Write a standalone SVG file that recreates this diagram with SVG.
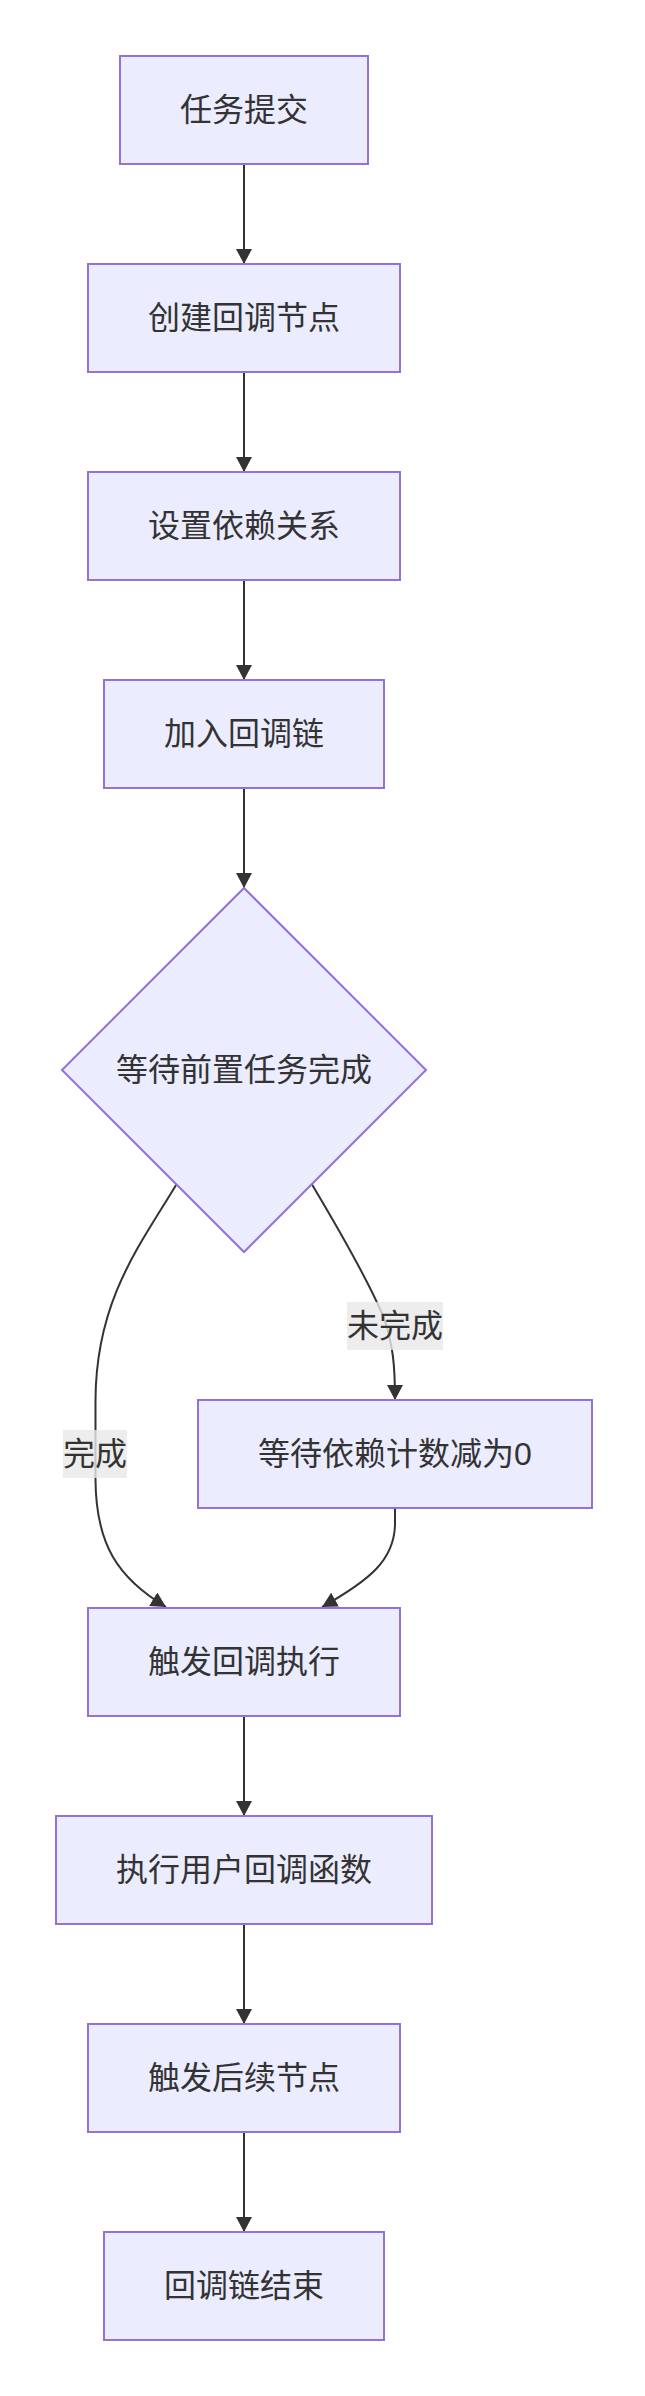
<svg xmlns="http://www.w3.org/2000/svg" width="645" height="2396" viewBox="0 0 645 2396">
<style>
.node rect,.node polygon{fill:#ECECFF;stroke:#9370DB;stroke-width:2}
.lbl{font-family:"Liberation Sans","Noto Sans CJK SC",sans-serif;font-size:32px;fill:#333;text-anchor:middle;dominant-baseline:central}
.edge{fill:none;stroke:#333;stroke-width:2}
.ebg{fill:#e8e8e8;opacity:0.8}
</style>
<defs>
<marker id="arr" viewBox="0 0 10 10" refX="10" refY="5" markerUnits="userSpaceOnUse" markerWidth="15" markerHeight="16" preserveAspectRatio="none" orient="auto">
<path d="M0,0 L10,5 L0,10 z" fill="#333"/>
</marker>
</defs>
<rect width="645" height="2396" fill="#ffffff"/>
<g id="edges">
<path class="edge" d="M244,164 L244,264" marker-end="url(#arr)"/>
<path class="edge" d="M244,372 L244,472" marker-end="url(#arr)"/>
<path class="edge" d="M244,580 L244,680" marker-end="url(#arr)"/>
<path class="edge" d="M244,788 L244,888" marker-end="url(#arr)"/>
<path class="edge" d="M176.7,1184 C140,1245 96,1300 95.5,1400 L95.5,1480 C96,1545 118,1578 166,1607" marker-end="url(#arr)"/>
<path class="edge" d="M311.7,1184 C338,1228 368,1280 384,1318 C393,1345 395,1365 395,1400" marker-end="url(#arr)"/>
<path class="edge" d="M395,1508 L395,1525 C394,1560 370,1580 322,1607" marker-end="url(#arr)"/>
<path class="edge" d="M244,1716 L244,1816" marker-end="url(#arr)"/>
<path class="edge" d="M244,1924 L244,2024" marker-end="url(#arr)"/>
<path class="edge" d="M244,2132 L244,2232" marker-end="url(#arr)"/>
<g id="label-done">
<rect class="ebg" x="63" y="1430" width="64" height="48"/>
<text class="lbl" x="95" y="1454">完成</text>
</g>
<g id="label-notdone">
<rect class="ebg" x="347" y="1302" width="96" height="48"/>
<text class="lbl" x="395" y="1326">未完成</text>
</g>
</g>
<g id="n1" class="node"><rect x="120" y="56" width="248" height="108"/><text class="lbl" x="244" y="110">任务提交</text></g>
<g id="n2" class="node"><rect x="88" y="264" width="312" height="108"/><text class="lbl" x="244" y="318">创建回调节点</text></g>
<g id="n3" class="node"><rect x="88" y="472" width="312" height="108"/><text class="lbl" x="244" y="526">设置依赖关系</text></g>
<g id="n4" class="node"><rect x="104" y="680" width="280" height="108"/><text class="lbl" x="244" y="734">加入回调链</text></g>
<g id="n5" class="node"><polygon points="244,888 426,1070 244,1252 62,1070"/><text class="lbl" x="244" y="1070">等待前置任务完成</text></g>
<g id="n6" class="node"><rect x="198" y="1400" width="394" height="108"/><text class="lbl" x="395" y="1454">等待依赖计数减为0</text></g>
<g id="n7" class="node"><rect x="88" y="1608" width="312" height="108"/><text class="lbl" x="244" y="1662">触发回调执行</text></g>
<g id="n8" class="node"><rect x="56" y="1816" width="376" height="108"/><text class="lbl" x="244" y="1870">执行用户回调函数</text></g>
<g id="n9" class="node"><rect x="88" y="2024" width="312" height="108"/><text class="lbl" x="244" y="2078">触发后续节点</text></g>
<g id="n10" class="node"><rect x="104" y="2232" width="280" height="108"/><text class="lbl" x="244" y="2286">回调链结束</text></g>
</svg>
